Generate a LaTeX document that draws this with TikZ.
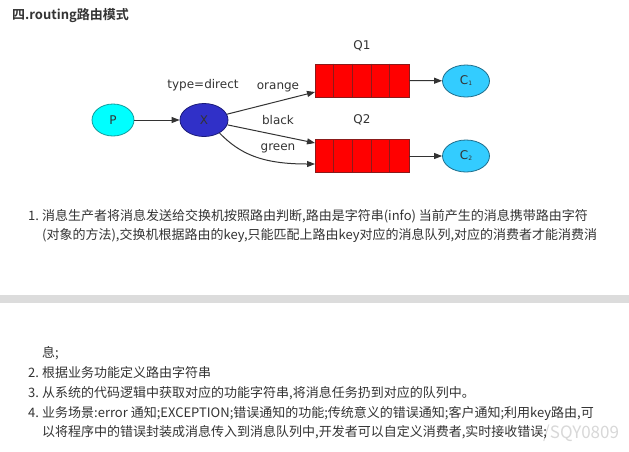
\documentclass[tikz,border=0pt]{standalone}
\usepackage{fontspec}
\setmainfont{Noto Sans CJK SC}[BoldFont={Noto Sans CJK SC Bold}]
\newfontfamily\dv{DejaVu Sans}
\usetikzlibrary{shapes.geometric,arrows.meta,calc}
\definecolor{txt}{HTML}{333333}
\definecolor{pfill}{HTML}{00FFFF}
\definecolor{pdraw}{HTML}{139C9C}
\definecolor{xfill}{HTML}{3030C8}
\definecolor{xdraw}{HTML}{1B1B7A}
\definecolor{qfill}{HTML}{FF0000}
\definecolor{qdraw}{HTML}{8B1A1A}
\definecolor{cfill}{HTML}{33CCFF}
\definecolor{cdraw}{HTML}{1F6E8C}
\definecolor{edge}{HTML}{333333}
\definecolor{bar}{HTML}{DCDCDC}
\definecolor{wm}{HTML}{D8D8D8}
\tikzset{
  ell/.style={ellipse,inner sep=0pt,line width=0.8pt,font=\dv\fontsize{12}{12}\selectfont,text=txt},
  pnode/.style={ell,fill=pfill,draw=pdraw,minimum width=42pt,minimum height=32pt},
  xnode/.style={ell,fill=xfill,draw=xdraw,minimum width=48pt,minimum height=33pt},
  cnode/.style={ell,fill=cfill,draw=cdraw,minimum width=47pt,minimum height=32pt},
  qbox/.style={rectangle,inner sep=0pt,fill=qfill,draw=qdraw,line width=0.8pt,minimum width=94pt,minimum height=33pt},
  qline/.style={draw=qdraw,line width=0.8pt},
  arr/.style={draw=edge,line width=1pt,-{Triangle[length=8pt,width=6pt]}},
  lbl/.style={font=\dv\fontsize{12}{12}\selectfont,text=txt,inner sep=0pt},
  body/.style={font=\fontsize{13}{13}\selectfont,text=txt,inner sep=0pt,anchor=base west},
}
\begin{document}
\begin{tikzpicture}[x=1pt,y=-1pt]
\useasboundingbox[fill=white] (0,0) rectangle (629,451);
% title
\node[body,font=\bfseries\fontsize{13}{13}\selectfont] (title) at (12,19) {四.routing路由模式};
% diagram
\node[pnode] (p) at (113,120) {P};
\node[xnode] (x) at (204,120) {X};
\node[qbox] (q1) at (362,80.5) {};
\node[qbox] (q2) at (362,156) {};
\foreach \i in {1,2,3,4}{
  \draw[qline] ($(q1.north west)+(\i*18.8,0)$) -- ($(q1.south west)+(\i*18.8,0)$);
  \draw[qline] ($(q2.north west)+(\i*18.8,0)$) -- ($(q2.south west)+(\i*18.8,0)$);
}
\node[cnode] (c1) at (466,81) {C\raisebox{-1pt}{\fontsize{6}{6}\selectfont 1}};
\node[cnode] (c2) at (466,156) {C\raisebox{-1pt}{\fontsize{6}{6}\selectfont 2}};
\node[lbl] (tlab) at (203,85) {type=direct};
\node[lbl] (q1lab) at (362,46) {Q1};
\node[lbl] (q2lab) at (362,120) {Q2};
\node[lbl] (orl) at (278,87) {orange};
\node[lbl] (bll) at (278,120) {black};
\node[lbl] (grl) at (278,148) {green};
\coordinate (q1a) at (315,92);
\coordinate (q2a) at (315,143);
\coordinate (q2b) at (315,164);
\draw[arr] (p) -- (x);
\draw[arr] (x) -- (q1a);
\draw[arr] (x) -- (q2a);
\draw[arr] (x.-40) .. controls (240,154) and (262,164) .. (q2b);
\draw[arr] (q1.east) -- (c1);
\draw[arr] (q2.east) -- (c2);
% text block 1
\node[body] (n1) at (28,220.7) {1.};
\node[body] (l1) at (42,220.7) {消息生产者将消息发送给交换机按照路由判断,路由是字符串(info) 当前产生的消息携带路由字符};
\node[body] (l2) at (42,239.7) {(对象的方法),交换机根据路由的key,只能匹配上路由key对应的消息队列,对应的消费者才能消费消};
% separator bar
\fill[bar] (0,295) rectangle (629,303);
% watermark
\node[body,font=\fontsize{17}{17}\selectfont,text=wm] (wmk) at (543,438) {/SQY0809};
% text block 2
\node[body] (l3) at (42,357.7) {息;};
\node[body] (n2) at (28,377.7) {2.};
\node[body] (l4) at (42,377.7) {根据业务功能定义路由字符串};
\node[body] (n3) at (28,397.7) {3.};
\node[body] (l5) at (42,397.7) {从系统的代码逻辑中获取对应的功能字符串,将消息任务扔到对应的队列中。};
\node[body] (n4) at (28,417.7) {4.};
\node[body] (l6) at (42,417.7) {业务场景:error 通知;EXCEPTION;错误通知的功能;传统意义的错误通知;客户通知;利用key路由,可};
\node[body] (l7) at (42,436.7) {以将程序中的错误封装成消息传入到消息队列中,开发者可以自定义消费者,实时接收错误;};
\end{tikzpicture}
\end{document}
